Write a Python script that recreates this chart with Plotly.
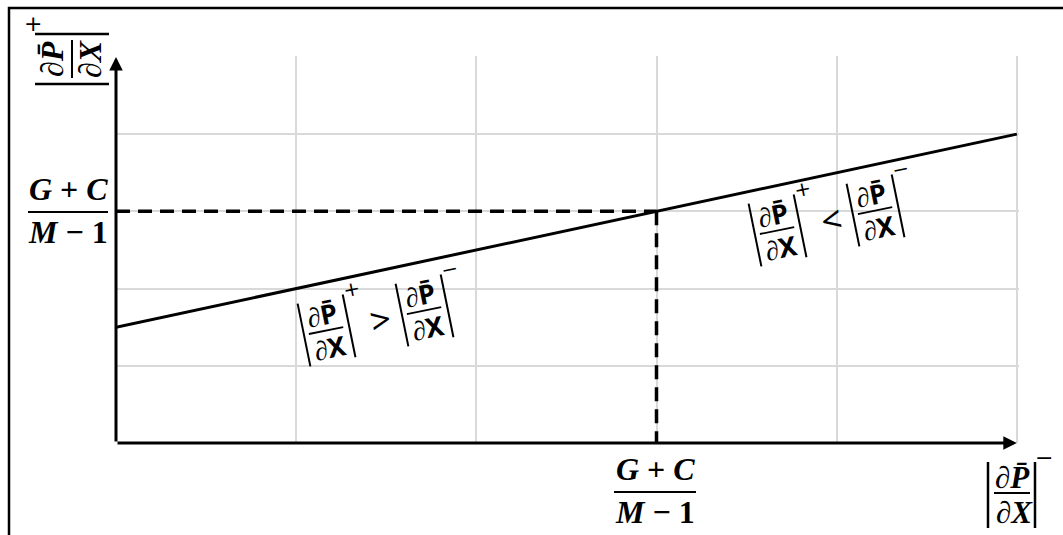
import math
import plotly.graph_objects as go

# ---------------- data ----------------
x_range = [0, 5.012]
y_range = [0, 5.012]
grid_vals = [1, 2, 3, 4, 5]

line_x = [0, 5]
line_y = [1.5, 4.0]

dash_h_x = [0, 3]
dash_h_y = [3, 3]
dash_v_x = [3, 3]
dash_v_y = [3, 0]

arrow_x_end = 5
arrow_y_end = 5

frac_num = "<i>G</i> + <i>C</i>"
frac_den = "<i>M</i> − 1"
deriv_num = "∂P̄"
deriv_den = "∂X"

# ---------------- layout constants ----------------
W, H = 1063, 535
ML, MR, MT, MB = 116, 44, 56, 92
PW = W - ML - MR
PH = H - MT - MB

annotations = []
shapes = []


def pp(xp, yp):
    """pixel -> paper"""
    return (xp - ML) / PW, (MT + PH - yp) / PH


def loc(cx, cy, th, u, v):
    t = math.radians(th)
    return (cx + u * math.cos(t) - v * math.sin(t),
            cy - u * math.sin(t) - v * math.cos(t))


def add_text(xpix, ypix, text, size, angle=0, family="Liberation Serif",
             weight="bold", style="normal"):
    x, y = pp(xpix, ypix)
    annotations.append(dict(
        x=x, y=y, xref="paper", yref="paper", text=text, showarrow=False,
        xanchor="center", yanchor="middle", textangle=-angle,
        font=dict(family=family, size=size, color="black", weight=weight, style=style),
    ))


def add_seg(p1, p2, width=2):
    x0, y0 = pp(*p1)
    x1, y1 = pp(*p2)
    shapes.append(dict(type="line", xref="paper", yref="paper",
                       x0=x0, y0=y0, x1=x1, y1=y1,
                       line=dict(color="black", width=width)))


# ---- rotated inequality labels along the line ----
def abs_group(cx, cy, th, u0, sup):
    fam = "Noto Sans"
    add_seg(loc(cx, cy, th, u0, -32), loc(cx, cy, th, u0, 32), 2)
    add_seg(loc(cx, cy, th, u0 + 46, -32), loc(cx, cy, th, u0 + 46, 32), 2)
    add_text(*loc(cx, cy, th, u0 + 22, 16), deriv_num, 27, th, fam)
    add_text(*loc(cx, cy, th, u0 + 23, -17), deriv_den, 27, th, fam)
    add_seg(loc(cx, cy, th, u0 + 5, 0), loc(cx, cy, th, u0 + 40, 0), 1.8)
    add_text(*loc(cx, cy, th, u0 + 56, 36), sup, 20, th, "DejaVu Sans", weight="normal")


def inequality(cx, cy, op, th=11.5):
    abs_group(cx, cy, th, 0, "+")
    add_text(*loc(cx, cy, th, 78, 0), op, 36, th, "Noto Sans", weight="normal")
    abs_group(cx, cy, th, 100, "−")


inequality(304, 335, "&gt;")
inequality(755, 235, "&lt;")

# ---- y axis label (rotated 90) ----
cx, cy, th = 72, 59, 90
add_text(*loc(cx, cy, th, 0, 20), deriv_num, 32, th, style="italic")
add_text(*loc(cx, cy, th, 0, -18), deriv_den, 32, th, style="italic")
add_seg(loc(cx, cy, th, -19, 0), loc(cx, cy, th, 19, 0), 2)
add_seg(loc(cx, cy, th, -25, -37), loc(cx, cy, th, -25, 37), 2.5)
add_seg(loc(cx, cy, th, 25, -37), loc(cx, cy, th, 25, 37), 2.5)
add_text(33, 23, "+", 22, 0, "DejaVu Sans", weight="normal")

# ---- x axis label ----
cx, cy, th = 1011, 493, 0
add_text(*loc(cx, cy, th, 1, 16), deriv_num, 31, th, style="italic")
add_text(*loc(cx, cy, th, 3, -19), deriv_den, 31, th, style="italic")
add_seg(loc(cx, cy, th, -17, 0), loc(cx, cy, th, 19, 0), 2)
add_seg(loc(cx, cy, th, -23, -35), loc(cx, cy, th, -23, 31), 2.5)
add_seg(loc(cx, cy, th, 24, -35), loc(cx, cy, th, 24, 31), 2.5)
add_text(*loc(cx, cy, th, 33, 36), "−", 22, th, "DejaVu Sans", weight="normal")

# ---- (G+C)/(M-1) labels ----
for (cx, cy, half) in [(68, 212, 40), (655, 492, 41)]:
    add_text(cx, cy - 23, frac_num, 32)
    add_text(cx, cy + 20, frac_den, 32)
    add_seg((cx - half, cy), (cx + half, cy), 2)

# ---- frame ----
fx0, fy0 = pp(9, 8)
fx1, fy1 = pp(1070, 545)
shapes.append(dict(type="rect", xref="paper", yref="paper", x0=fx0, y0=fy1, x1=fx1, y1=fy0,
                   line=dict(color="black", width=2.5), fillcolor="rgba(0,0,0,0)", layer="above"))

# ---- axis arrows ----
annotations.append(dict(x=arrow_x_end, y=0, ax=0, ay=0, xref="x", yref="y", axref="x", ayref="y",
                        text="", showarrow=True, arrowhead=2, arrowsize=0.9, arrowwidth=3,
                        arrowcolor="black", standoff=0, startstandoff=0))
annotations.append(dict(x=0, y=arrow_y_end, ax=0, ay=0, xref="x", yref="y", axref="x", ayref="y",
                        text="", showarrow=True, arrowhead=2, arrowsize=0.9, arrowwidth=3,
                        arrowcolor="black", standoff=0, startstandoff=0))

fig = go.Figure()
dash = "14px,8px"
fig.add_trace(go.Scatter(x=dash_h_x, y=dash_h_y, mode="lines",
                         line=dict(color="black", width=3.5, dash=dash), hoverinfo="skip"))
fig.add_trace(go.Scatter(x=dash_v_x, y=dash_v_y, mode="lines",
                         line=dict(color="black", width=3.5, dash=dash), hoverinfo="skip"))
fig.add_trace(go.Scatter(x=line_x, y=line_y, mode="lines",
                         line=dict(color="black", width=3), hoverinfo="skip"))

axis_common = dict(showgrid=True, gridcolor="#d9d9d9", gridwidth=2, zeroline=False,
                   showline=False, showticklabels=False, ticks="", tickmode="array",
                   tickvals=grid_vals, fixedrange=True)
fig.update_layout(
    width=W, height=H,
    margin=dict(l=ML, r=MR, t=MT, b=MB, pad=0),
    paper_bgcolor="white", plot_bgcolor="white",
    showlegend=False,
    xaxis=dict(range=x_range, **axis_common),
    yaxis=dict(range=y_range, **axis_common),
    annotations=annotations,
    shapes=shapes,
)
for tr in fig.data:
    tr.update(cliponaxis=False)

fig.write_html("out.html", config={"displayModeBar": False, "staticPlot": True})
